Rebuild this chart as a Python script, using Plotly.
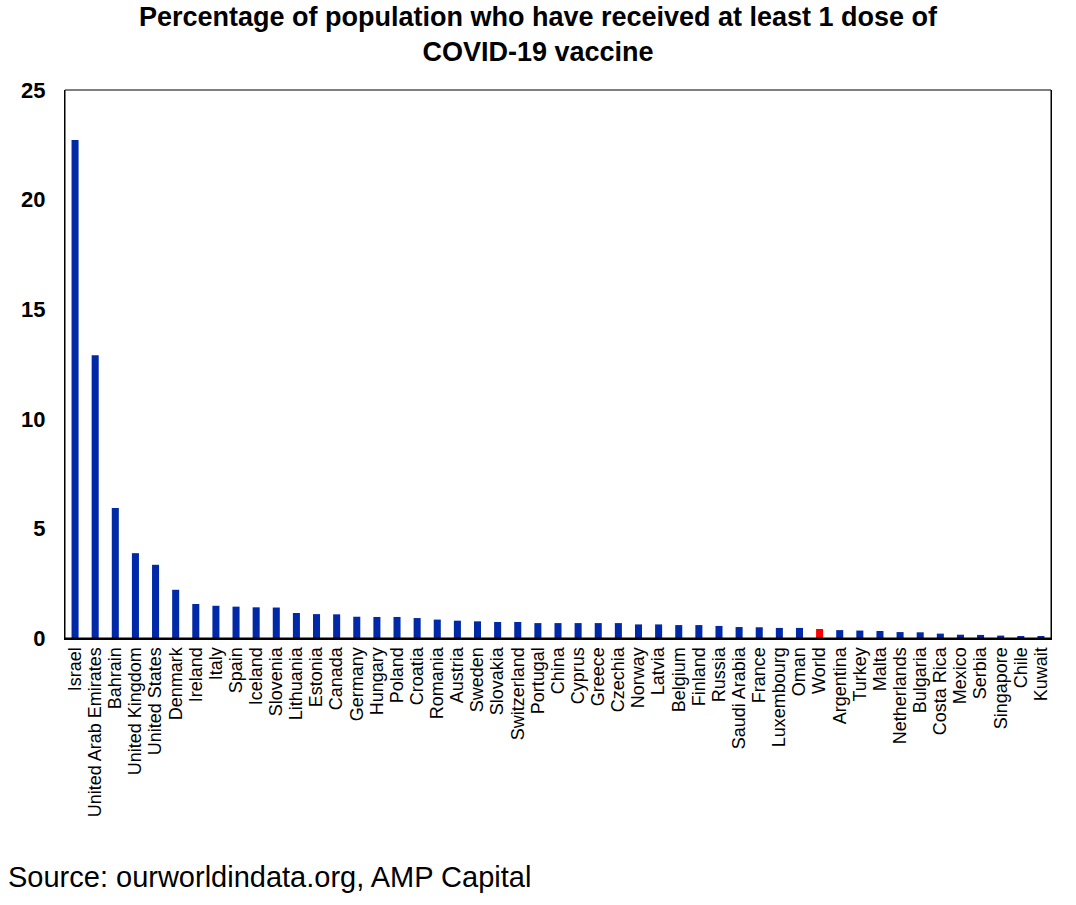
import plotly.graph_objects as go

# Countries, sorted by share of population with at least one dose
countries = [
    "Israel", "United Arab Emirates", "Bahrain", "United Kingdom", "United States",
    "Denmark", "Ireland", "Italy", "Spain", "Iceland", "Slovenia", "Lithuania",
    "Estonia", "Canada", "Germany", "Hungary", "Poland", "Croatia", "Romania",
    "Austria", "Sweden", "Slovakia", "Switzerland", "Portugal", "China", "Cyprus",
    "Greece", "Czechia", "Norway", "Latvia", "Belgium", "Finland", "Russia",
    "Saudi Arabia", "France", "Luxembourg", "Oman", "World", "Argentina", "Turkey",
    "Malta", "Netherlands", "Bulgaria", "Costa Rica", "Mexico", "Serbia",
    "Singapore", "Chile", "Kuwait",
]
pct_one_dose = [
    22.72, 12.9, 5.93, 3.87, 3.34,
    2.2, 1.55, 1.47, 1.43, 1.40, 1.39, 1.14,
    1.09, 1.08, 0.97, 0.96, 0.96, 0.91, 0.84,
    0.79, 0.76, 0.73, 0.73, 0.68, 0.68, 0.68,
    0.68, 0.68, 0.62, 0.62, 0.59, 0.59, 0.55,
    0.50, 0.49, 0.46, 0.46, 0.41, 0.36, 0.34,
    0.32, 0.27, 0.26, 0.20, 0.15, 0.14,
    0.11, 0.07, 0.07,
]

BLUE = "#0029A8"
RED = "#FF0000"
bar_colors = [RED if c == "World" else BLUE for c in countries]

fig = go.Figure(
    go.Bar(x=countries, y=pct_one_dose, marker=dict(color=bar_colors, line_width=0))
)

fig.update_layout(
    width=1076,
    height=905,
    paper_bgcolor="white",
    plot_bgcolor="white",
    font=dict(family="Arial, Liberation Sans", color="black"),
    margin=dict(l=65, r=25, t=90, b=267),
    bargap=0.65,
    showlegend=False,
    title=dict(
        text="<b>Percentage of population who have received at least 1 dose of<br>COVID-19 vaccine</b>",
        x=0.5,
        xanchor="center",
        y=0.971,
        yanchor="top",
        font=dict(size=27),
    ),
    annotations=[
        dict(
            text="Source: ourworldindata.org, AMP Capital",
            xref="paper", yref="paper",
            x=-0.06, y=-0.436,
            xanchor="left", yanchor="middle",
            showarrow=False,
            font=dict(size=29),
        )
    ],
)

fig.update_xaxes(
    tickmode="array",
    tickvals=countries,
    ticktext=countries,
    tickangle=-90,
    tickfont=dict(size=18),
    showline=True,
    linecolor="black",
    linewidth=2,
    ticks="",
    showgrid=False,
)
fig.update_yaxes(
    range=[0, 25],
    dtick=5,
    tickfont=dict(size=22, weight="bold"),
    ticklabelstandoff=14,
    showline=True,
    linecolor="black",
    linewidth=1,
    mirror=True,
    ticks="",
    showgrid=False,
    zeroline=False,
)
# top/right frame
fig.add_shape(type="rect", xref="paper", yref="paper", x0=0, y0=0, x1=1, y1=1,
              line=dict(color="black", width=1))

# drop the default body margin so the figure sits at the window's corner
fig.write_html(
    "out.html",
    config={"displayModeBar": False},
    post_script="document.body.style.margin='0';",
)
